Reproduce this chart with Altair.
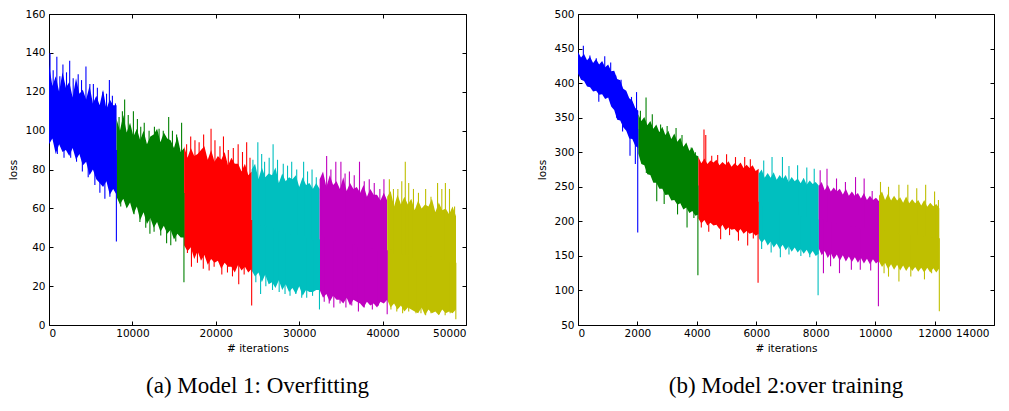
import altair as alt
import pandas as pd
import numpy as np

SEGS = ["s1", "s2", "s3", "s4", "s5", "s6"]
COLORS = ["#0000ff", "#008000", "#ff0000", "#00bfbf", "#bf00bf", "#bfbf00"]

# ---------------- Model 1 (left) ----------------
# segment boundaries (iterations); band values sampled evenly inside each segment
L_BOUNDS = [0, 8100, 16200, 24300, 32450, 40550, 48800]
L_BAND_HI = [
    [134, 123, 128, 120, 130, 122, 125, 117, 127, 119, 121, 116, 123, 114, 118, 113, 121, 111, 116, 113, 113],
    [106, 100, 108, 99, 104, 97, 101, 95, 100, 93, 97, 98, 101, 94, 99, 96, 95, 91, 97, 89, 91],
    [92, 86, 91, 87, 88, 90, 92, 85, 90, 84, 87, 85, 89, 82, 86, 83, 83, 79, 83, 77, 79],
    [80, 83, 75, 81, 76, 78, 77, 81, 73, 78, 74, 76, 75, 77, 71, 76, 72, 73, 70, 73, 70],
    [75, 79, 71, 77, 72, 74, 70, 76, 69, 73, 70, 71, 68, 72, 66, 70, 67, 67, 64, 68, 64],
    [66, 69, 61, 67, 62, 66, 62, 65, 59, 64, 60, 62, 61, 65, 58, 63, 59, 60, 57, 61, 56],
]
L_BAND_LO = [
    [93, 96, 88, 93, 89, 90, 87, 91, 85, 88, 82, 84, 77, 80, 75, 73, 71, 74, 67, 70, 67],
    [66, 62, 65, 60, 63, 57, 61, 54, 58, 52, 55, 50, 53, 48, 51, 47, 49, 44, 47, 45, 45],
    [41, 38, 40, 34, 38, 33, 36, 31, 34, 32, 33, 29, 32, 30, 30, 27, 31, 28, 30, 27, 29],
    [28, 25, 27, 22, 26, 21, 22, 19, 23, 18, 21, 17, 19, 16, 20, 15, 18, 17, 17, 18, 18],
    [18, 14, 16, 12, 15, 13, 13, 11, 14, 10, 13, 12, 11, 9, 12, 10, 11, 9, 12, 11, 13],
    [13, 9, 11, 8, 10, 7, 9, 8, 7, 6, 9, 5, 8, 6, 7, 5, 8, 6, 7, 6, 8],
]
L_SPIKE_UP = [
    [(120, 140), (500, 131), (940, 138), (1300, 128), (1670, 134), (2100, 130), (2480, 136), (2900, 127),
     (3500, 129), (3900, 126), (4430, 133), (4900, 124), (5320, 124), (5800, 122), (6460, 120), (6900, 119),
     (7240, 126), (7600, 118), (7970, 114)],
    [(8400, 107), (8800, 110), (9070, 116), (9500, 108), (10120, 110), (10600, 106), (11000, 102), (11420, 104),
     (12000, 100), (12640, 102), (13200, 101), (13700, 100), (14350, 107), (14800, 100), (15300, 98), (15900, 104)],
    [(16500, 93), (16990, 97), (17500, 95), (18000, 94), (18540, 98), (19430, 101), (19900, 95), (20500, 92),
     (20920, 97), (21500, 90), (22100, 91), (22680, 93), (23200, 89), (23700, 94), (24100, 86)],
    [(24450, 85), (25040, 94), (25500, 88), (25850, 84), (26400, 86), (26870, 93), (27400, 85), (28090, 83),
     (28600, 82), (29100, 84), (29700, 80), (30530, 84), (31000, 79), (31540, 80), (32050, 76)],
    [(32700, 76), (33290, 87), (33800, 80), (34390, 84), (35000, 84), (35500, 78), (36020, 79), (36600, 77),
     (37230, 84), (37800, 74), (38400, 75), (39000, 73), (39670, 70), (40160, 75)],
    [(40810, 75), (41300, 70), (41830, 70), (42300, 74), (42720, 84), (43130, 73), (43700, 70), (44300, 68),
     (45160, 70), (45800, 66), (46590, 73), (47100, 70), (47530, 73), (48020, 70), (48630, 61)],
]
L_SPIKE_DOWN = [
    [(1000, 88), (1800, 86), (2600, 86), (3300, 84), (4000, 79), (4700, 76), (5500, 72), (6100, 68),
     (6700, 65), (7300, 66), (8080, 43)],
    [(8600, 61), (9300, 62), (10200, 57), (10900, 53), (11600, 50), (12100, 47), (12600, 48), (13400, 46),
     (14100, 42), (14600, 41), (15200, 43), (16180, 22)],
    [(16600, 37), (17080, 30), (17800, 32), (18500, 29), (19200, 28), (19800, 30), (20720, 26), (21400, 27),
     (22000, 25), (22750, 21), (23400, 26), (24000, 28), (24300, 10)],
    [(24800, 22), (25370, 16), (26000, 20), (26800, 18), (27600, 17), (28300, 16), (28900, 15), (29600, 16),
     (30300, 14), (30900, 14), (31600, 15), (32430, 8)],
    [(33000, 12), (33600, 11), (34150, 9), (34900, 11), (35600, 9), (36300, 10), (37100, 7), (37800, 9),
     (38770, 8), (39500, 10), (40550, 5.5)],
    [(41000, 8), (41700, 7), (42400, 6), (43130, 7), (44000, 6), (44600, 6), (45160, 5), (45800, 6),
     (46800, 5.5), (47500, 5), (48100, 6), (48780, 3)],
]

# ---------------- Model 2 (right) ----------------
R_BOUNDS = [0, 2030, 4050, 6080, 8100, 10130, 12160]
R_BAND_HI = [
    [445, 437, 442, 433, 438, 429, 435, 427, 432, 423, 427, 417, 418, 406, 404, 392, 389, 378, 375, 364, 360],
    [355, 345, 351, 339, 345, 334, 340, 329, 337, 325, 331, 319, 327, 315, 321, 308, 314, 302, 307, 296, 294],
    [293, 284, 291, 283, 288, 285, 289, 281, 286, 282, 287, 279, 284, 280, 285, 277, 282, 277, 281, 273, 276],
    [269, 275, 263, 270, 263, 271, 260, 267, 261, 267, 257, 264, 258, 262, 255, 263, 253, 259, 254, 257, 252],
    [251, 257, 245, 253, 243, 249, 243, 247, 239, 247, 237, 243, 237, 241, 233, 241, 231, 237, 231, 234, 229],
    [237, 243, 231, 240, 230, 237, 230, 235, 227, 236, 226, 232, 226, 231, 223, 231, 221, 227, 222, 225, 219],
]
R_BAND_LO = [
    [414, 405, 403, 395, 394, 388, 389, 383, 384, 377, 379, 366, 361, 347, 346, 336, 331, 320, 319, 309, 306],
    [298, 283, 281, 268, 267, 256, 256, 247, 247, 238, 239, 230, 231, 224, 226, 217, 220, 212, 215, 208, 210],
    [204, 197, 202, 194, 198, 194, 195, 189, 195, 187, 191, 188, 189, 184, 189, 182, 186, 182, 184, 179, 182],
    [176, 169, 174, 165, 171, 162, 168, 160, 166, 158, 164, 156, 162, 155, 160, 153, 159, 151, 157, 150, 153],
    [161, 151, 157, 147, 154, 145, 152, 143, 151, 142, 149, 141, 148, 140, 147, 139, 146, 138, 145, 139, 143],
    [142, 134, 140, 131, 138, 130, 137, 129, 136, 128, 135, 128, 134, 127, 133, 126, 133, 126, 132, 126, 132],
]
R_SPIKE_UP = [
    [(180, 454), (400, 440), (615, 436), (900, 439), (1100, 430), (1270, 411), (1450, 405), (1600, 385),
     (1800, 380), (1970, 387)],
    [(2100, 360), (2290, 379), (2500, 355), (2780, 340), (3000, 338), (3300, 335), (3500, 325), (3810, 307),
     (3950, 300)],
    [(4240, 333), (4300, 325), (4500, 295), (4700, 296), (5000, 297), (5300, 293), (5610, 293), (5800, 290)],
    [(6250, 288), (6530, 293), (6880, 293), (7100, 280), (7390, 281), (7700, 278), (7950, 276)],
    [(8150, 274), (8380, 276), (8700, 262), (9000, 257), (9340, 264), (9630, 262), (9900, 244)],
    [(10180, 257), (10450, 250), (10800, 253), (11100, 253), (11400, 248), (11700, 253), (12000, 243),
     (12130, 231)],
]
R_SPIKE_DOWN = [
    [(700, 373), (1300, 350), (1500, 330), (1750, 295), (1930, 283), (2010, 184)],
    [(2300, 270), (2650, 229), (2900, 225), (3350, 210), (3670, 191), (3900, 205), (4035, 122)],
    [(4150, 191), (4400, 185), (4800, 174), (5100, 180), (5400, 172), (5710, 165), (5900, 175), (6060, 111)],
    [(6180, 160), (6500, 155), (6810, 148), (7100, 152), (7500, 150), (7800, 148), (8080, 93)],
    [(8260, 125), (8500, 135), (8800, 125), (9200, 130), (9500, 130), (9850, 129), (10110, 77)],
    [(10300, 125), (10450, 120), (10800, 113), (11200, 120), (11660, 116), (11900, 125), (12160, 70)],
]

L_XTICKS = [0, 10000, 20000, 30000, 40000, 50000]
L_YTICKS = [0, 20, 40, 60, 80, 100, 120, 140, 160]
R_XTICKS = [0, 2000, 4000, 6000, 8000, 10000, 12000, 14000]
R_YTICKS = [50, 100, 150, 200, 250, 300, 350, 400, 450, 500]

FONT = "DejaVu Sans"
FS = 10.5


def frames(bounds, bhi, blo, up, down):
    band, spikes = [], []
    for i in range(len(bhi)):
        his, los = bhi[i], blo[i]
        xs = np.linspace(bounds[i], bounds[i + 1], len(his))
        mid = [(h + l) / 2 for h, l in zip(his, los)]
        for x, h, l in zip(xs, his, los):
            band.append({"seg": SEGS[i], "x": float(x), "hi": h, "lo": l})
        for x, t in up[i] + down[i]:
            spikes.append({"seg": SEGS[i], "x": x, "tip": t, "base": float(np.interp(x, xs, mid))})
    return pd.DataFrame(band), pd.DataFrame(spikes)


def panel(bounds, bhi, blo, up, down, xdom, ydom, xticks, yticks, caption, w, h, last_shift):
    band, spikes = frames(bounds, bhi, blo, up, down)
    xs = alt.Scale(domain=xdom, nice=False, zero=False)
    ys = alt.Scale(domain=ydom, nice=False, zero=False)
    col = alt.Color("seg:N", scale=alt.Scale(domain=SEGS, range=COLORS), legend=None)
    common = dict(tickSize=4, offset=-4, domain=False, grid=False, tickColor="black", minExtent=0,
                  tickWidth=1, labelFont=FONT, labelFontSize=FS, labelColor="black", titleFont=FONT,
                  titleFontSize=FS, titleFontWeight="normal", titleColor="black", format="d")
    bx_ax = dict(common); bx_ax.update(values=xticks, orient="bottom", labelPadding=3, title="# iterations",
                                       titlePadding=5)
    if last_shift:
        bx_ax["labelOffset"] = {"condition": {"test": "datum.value == %d" % xticks[-1], "value": last_shift},
                                "value": 0}
    ly_ax = dict(common); ly_ax.update(values=yticks, orient="left", labelPadding=4, title="loss",
                                       titlePadding=6)
    tx_ax = dict(common); tx_ax.update(values=xticks, orient="top", labels=False, title=None, maxExtent=0)
    ry_ax = dict(common); ry_ax.update(values=yticks, orient="right", labels=False, title=None, maxExtent=0)

    area = alt.Chart(band).mark_area(opacity=1, interpolate="linear").encode(
        x=alt.X("x:Q", scale=xs, axis=alt.Axis(**bx_ax)),
        y=alt.Y("hi:Q", scale=ys, axis=alt.Axis(**ly_ax)),
        y2="lo:Q",
        color=col,
    )
    rules = alt.Chart(spikes).mark_rule(strokeWidth=1.1).encode(
        x=alt.X("x:Q", scale=xs, axis=None),
        y=alt.Y("tip:Q", scale=ys, axis=None),
        y2="base:Q",
        color=col,
    )
    ghost = alt.Chart(band).mark_point(opacity=0).encode(
        x=alt.X("x:Q", scale=xs, axis=alt.Axis(**tx_ax)),
        y=alt.Y("hi:Q", scale=ys, axis=alt.Axis(**ry_ax)),
    )
    return alt.layer(area, rules, ghost).resolve_axis(x="independent", y="independent").properties(
        width=w, height=h,
        title=alt.TitleParams(caption, orient="bottom", font="Liberation Serif", fontSize=23,
                              fontWeight="normal", color="black", offset=21, anchor="middle", frame="group"),
    )


left = panel(L_BOUNDS, L_BAND_HI, L_BAND_LO, L_SPIKE_UP, L_SPIKE_DOWN, [0, 50000], [0, 160],
             L_XTICKS, L_YTICKS, "(a) Model 1: Overfitting", 417, 311, 0)
right = panel(R_BOUNDS, R_BAND_HI, R_BAND_LO, R_SPIKE_UP, R_SPIKE_DOWN, [0, 14000], [50, 500],
              R_XTICKS, R_YTICKS, "(b) Model 2:over training", 416, 311, -5)

chart = alt.hconcat(left, right, spacing=70).properties(padding=0, background="white").configure_view(
    stroke="black", strokeWidth=1
)

chart.save("out.html", embed_options={"renderer": "svg", "actions": False})
